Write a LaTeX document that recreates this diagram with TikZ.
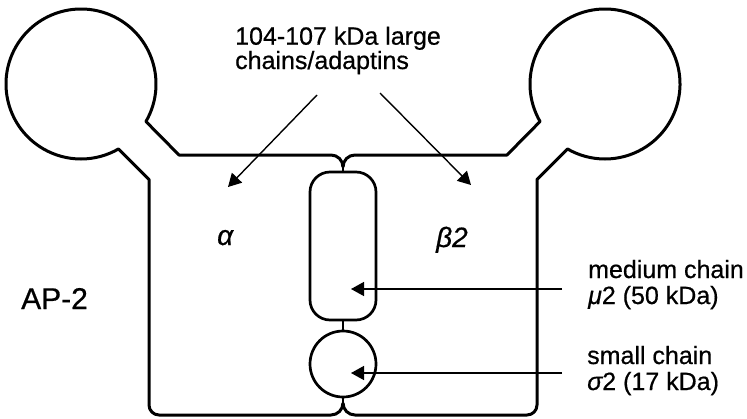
\documentclass[tikz,border=0pt]{standalone}
\usepackage{fontspec}
\setmainfont{Liberation Sans}[FakeBold=0.6]
\usetikzlibrary{arrows.meta}
\tikzset{
  outline/.style={line width=3pt, line join=round},
  inner/.style={draw, line width=2.7pt, inner sep=0pt},
  pointer/.style={line width=1.4pt, -{Triangle[length=13pt,width=14pt]}},
  lbl/.style={inner sep=0pt, align=left, font=\fontsize{25}{23}\selectfont},
  lblb/.style={inner sep=0pt, align=left, font=\fontsize{25}{26}\selectfont},
}
\begin{document}
\begin{tikzpicture}[x=1pt,y=-1pt]
\useasboundingbox (0,0) rectangle (747,418);
% left (alpha) adaptin
\draw[outline] (343,167) arc[start angle=0, end angle=-90, radius=12]
  -- (179,155) -- (145.95,121.5) arc[start angle=30, end angle=-300, radius=75]
  -- (149,179.5) -- (149,405) arc[start angle=180, end angle=90, radius=10]
  -- (331,415) arc[start angle=90, end angle=0, radius=12];
% right (beta2) adaptin
\draw[outline] (343,167) arc[start angle=180, end angle=270, radius=12]
  -- (507,155) -- (540.05,121.5) arc[start angle=150, end angle=480, radius=75]
  -- (537,179.5) -- (537,405) arc[start angle=0, end angle=90, radius=10]
  -- (355,415) arc[start angle=90, end angle=180, radius=12];
% central chains
\coordinate (topj) at (343,167);
\coordinate (botj) at (343,403);
\node[inner, rounded corners=20pt, minimum width=66pt, minimum height=148pt] (medium) at (343,246) {};
\node[inner, circle, minimum size=66pt] (small) at (343,364) {};
\draw[line width=2.7pt] (topj) -- (medium.north);
\draw[line width=2.7pt] (medium.south) -- (small.north);
\draw[line width=2.7pt] (small.south) -- (botj);
% labels
\node[lbl, anchor=base west] (large) at (235,69) {104-107 kDa large\\chains/adaptins};
\node[inner sep=0pt, anchor=base west, font=\fontsize{30}{30}\selectfont] (ap) at (21,309) {AP-2};
\node[inner sep=0pt, anchor=base west, font=\fontsize{28}{28}\selectfont\itshape] (alpha) at (217,245) {α};
\node[inner sep=0pt, anchor=base west, font=\fontsize{28}{28}\selectfont\itshape] (beta) at (436,247) {β2};
\node[lblb, anchor=base west] (mlbl) at (588,304) {medium chain\\{\itshape μ}2 (50 kDa)};
\node[lblb, anchor=base west] (slbl) at (587,390) {small chain\\{\itshape σ}2 (17 kDa)};
% pointers
\coordinate (la) at (317,95);
\coordinate (lat) at (228,187);
\coordinate (ra) at (380,93);
\coordinate (rat) at (471,185);
\coordinate (ms) at (562,289);
\coordinate (mt) at (351,289);
\coordinate (ss) at (562,373);
\coordinate (st) at (351,373);
\draw[pointer] (la) -- (lat);
\draw[pointer] (ra) -- (rat);
\draw[pointer] (ms) -- (mt);
\draw[pointer] (ss) -- (st);
\end{tikzpicture}
\end{document}
